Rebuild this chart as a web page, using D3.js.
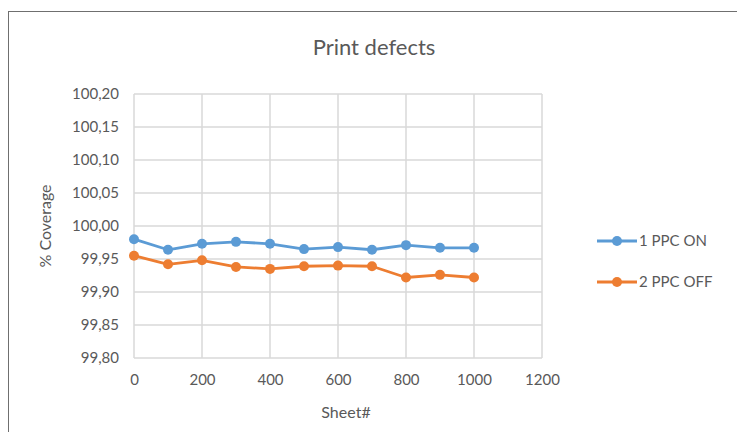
<!DOCTYPE html>
<html><head><meta charset="utf-8">
<script src="https://cdn.jsdelivr.net/npm/d3@7"></script>
<style>body{margin:0;background:#fff}svg{display:block}</style>
</head><body>
<script>
const sheets = [0,100,200,300,400,500,600,700,800,900,1000];
const seriesNames = ["1 PPC ON","2 PPC OFF"];
const ppcOn  = [99.980,99.964,99.973,99.976,99.973,99.965,99.968,99.964,99.971,99.967,99.967];
const ppcOff = [99.955,99.942,99.948,99.938,99.935,99.939,99.940,99.939,99.922,99.926,99.922];
const xTicks = [0,200,400,600,800,1000,1200];
const yTicks = [99.80,99.85,99.90,99.95,100.00,100.05,100.10,100.15,100.20];
const colors = ["#5b9bd5","#ed7d31"];

const W=737,H=432;
const svg=d3.select("body").append("svg").attr("width",W).attr("height",H);
const font="Lato, 'Open Sans', sans-serif";
// frame
svg.append("rect").attr("x",8.5).attr("y",11.5).attr("width",W).attr("height",H).attr("fill","none").attr("stroke","#6f6f6f").attr("stroke-width",1);

const x=d3.scaleLinear().domain([0,1200]).range([134,542]);
const y=d3.scaleLinear().domain([99.80,100.20]).range([358,94]);

// gridlines
const g=svg.append("g");
g.selectAll(".hg").data(yTicks).join("line").attr("x1",x(0)).attr("x2",x(1200))
 .attr("y1",d=>y(d)).attr("y2",d=>y(d)).attr("stroke","#d9d9d9").attr("stroke-width",1.5);
g.selectAll(".vg").data(xTicks).join("line").attr("y1",y(99.80)).attr("y2",y(100.20))
 .attr("x1",d=>x(d)).attr("x2",d=>x(d)).attr("stroke","#d9d9d9").attr("stroke-width",1.5);

// axes labels via d3 axes
const fmt=d=>d3.format(".2f")(d).replace(".",",");
const ya=svg.append("g").attr("transform",`translate(${x(0)},0)`).call(d3.axisLeft(y).tickValues(yTicks).tickFormat(fmt).tickSize(0).tickPadding(15));
const xa=svg.append("g").attr("transform",`translate(0,${y(99.80)})`).call(d3.axisBottom(x).tickValues(xTicks).tickFormat(d3.format("d")).tickSize(0).tickPadding(16));
[ya,xa].forEach(a=>{a.select(".domain").remove();a.selectAll("text").attr("font-family",font).attr("font-size",15).attr("fill","#595959");});

// title
svg.append("text").attr("x",374).attr("y",55).attr("text-anchor","middle").attr("font-family",font).attr("font-size",22).attr("fill","#595959").text("Print defects");
svg.append("text").attr("x",346).attr("y",418).attr("text-anchor","middle").attr("font-family",font).attr("font-size",16).attr("fill","#595959").text("Sheet#");
svg.append("text").attr("transform","translate(51,226) rotate(-90)").attr("text-anchor","middle").attr("font-family",font).attr("font-size",16).attr("fill","#595959").text("% Coverage");

const data=[ppcOn,ppcOff];
const line=d3.line().x((d,i)=>x(sheets[i])).y(d=>y(d));
data.forEach((s,k)=>{
  svg.append("path").datum(s).attr("d",line).attr("fill","none").attr("stroke",colors[k]).attr("stroke-width",2.8).attr("stroke-linejoin","round");
  svg.selectAll(null).data(s).join("circle").attr("cx",(d,i)=>x(sheets[i])).attr("cy",d=>y(d)).attr("r",5).attr("fill",colors[k]);
});

// legend
const ly=[241,282];
seriesNames.forEach((n,k)=>{
  svg.append("line").attr("x1",597).attr("x2",637).attr("y1",ly[k]).attr("y2",ly[k]).attr("stroke",colors[k]).attr("stroke-width",2.8);
  svg.append("circle").attr("cx",617).attr("cy",ly[k]).attr("r",5).attr("fill",colors[k]);
  svg.append("text").attr("x",639).attr("y",ly[k]+5).attr("font-family",font).attr("font-size",15).attr("fill","#595959").text(n);
});
</script>
</body></html>
